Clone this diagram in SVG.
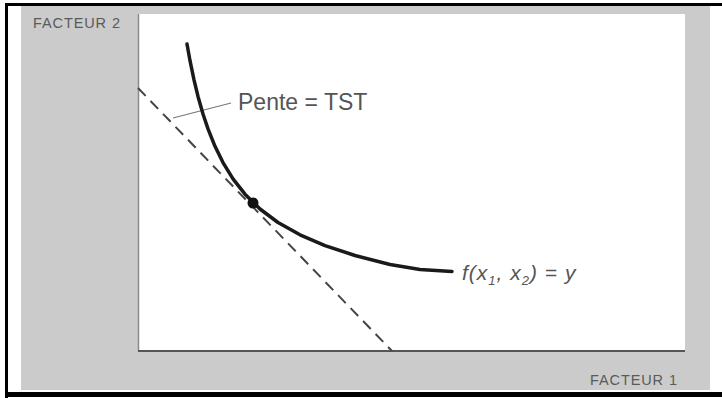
<svg xmlns="http://www.w3.org/2000/svg" width="722" height="398" viewBox="0 0 722 398">
<style>
.lbl{font-family:"Liberation Sans",Arial,sans-serif;fill:#555}
.axis{font-family:"Liberation Sans",Arial,sans-serif;fill:#5a5a5a;font-size:14.5px;letter-spacing:0.9px}
</style>
<rect x="0" y="0" width="722" height="398" fill="#ffffff"/>
<g id="frame">
<rect x="21" y="6" width="689" height="384" fill="#cbcbcb"/>
<rect x="138" y="14" width="547" height="337" fill="#ffffff"/>
<line x1="5" y1="4.5" x2="722" y2="4.5" stroke="#000" stroke-width="3"/>
<line x1="6.5" y1="3" x2="6.5" y2="398" stroke="#000" stroke-width="3"/>
<line x1="5" y1="394.5" x2="722" y2="394.5" stroke="#000" stroke-width="5"/>
</g>
<g id="axes">
<line x1="138.5" y1="14" x2="138.5" y2="351" stroke="#8a8a8a" stroke-width="1.5"/>
<line x1="138" y1="351" x2="685" y2="351" stroke="#555" stroke-width="2"/>
<text id="y-label" class="axis" x="33" y="28">FACTEUR 2</text>
<text id="x-label" class="axis" x="590" y="385">FACTEUR 1</text>
</g>
<g id="connectors">
<line id="tangent" x1="138" y1="88" x2="392" y2="351" stroke="#444" stroke-width="2" stroke-dasharray="11,7"/>
<line id="leader" x1="231" y1="103" x2="173" y2="118" stroke="#777" stroke-width="1.2"/>
</g>
<g id="isoquant">
<polyline points="187,44 190,60.7 194,79.9 198,96.4 203,114 208,128.9 215,146.3 223,162.6 233,178.8 245,194.2 260,209 278,222.5 300,234.8 325,245.6 355,255.5 390,264.5 420,269.5 452,271.5" fill="none" stroke="#1a1a1a" stroke-width="3.5" stroke-linecap="round" stroke-linejoin="round"/>
<text id="isoquant-label" class="lbl" x="462" y="280" font-size="21" font-style="italic" letter-spacing="1">f(x<tspan font-size="13" dy="5">1</tspan><tspan dy="-5">, x</tspan><tspan font-size="13" dy="5">2</tspan><tspan dy="-5">) = y</tspan></text>
</g>
<g id="tangency-point">
<circle cx="253" cy="203" r="5.5" fill="#111"/>
</g>
<g id="slope-label">
<text class="lbl" x="238" y="110" font-size="23">Pente = TST</text>
</g>
</svg>
